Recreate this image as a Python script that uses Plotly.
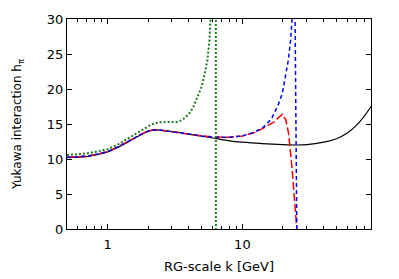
import plotly.graph_objects as go

# Black solid
k_black = [0.5, 0.6, 0.7, 0.8, 0.9, 1.0, 1.2, 1.4, 1.6, 1.8, 2.0, 2.2, 2.5, 3.0, 3.5, 4.0, 5.0, 6.0, 8.0, 10, 14, 20, 25, 30, 40, 50, 60, 70, 80, 90]
h_black = [10.2, 10.25, 10.35, 10.55, 10.75, 11.0, 11.7, 12.35, 13.0, 13.55, 13.95, 14.15, 14.1, 13.9, 13.75, 13.55, 13.25, 13.0, 12.6, 12.4, 12.2, 12.05, 12.0, 12.05, 12.4, 12.9, 13.7, 14.8, 16.1, 17.5]

# Red dashed
k_red = [0.5, 0.6, 0.7, 0.8, 0.9, 1.0, 1.2, 1.4, 1.6, 1.8, 2.0, 2.2, 2.5, 3.0, 3.5, 4.0, 5.0, 6.0, 7.0, 8.0, 10, 12, 14, 16, 17.2, 18.5, 19.8, 21.0, 22.0, 23.3, 24.6, 25.6, 25.8]
h_red = [10.25, 10.3, 10.4, 10.6, 10.8, 11.05, 11.75, 12.4, 13.05, 13.6, 14.0, 14.15, 14.1, 13.9, 13.7, 13.5, 13.3, 13.15, 13.1, 13.1, 13.3, 13.7, 14.3, 14.9, 15.3, 15.9, 16.4, 15.6, 13.7, 8.9, 4.1, 0.0, -2.0]

# Blue short-dashed
k_blue = [0.5, 0.6, 0.7, 0.8, 0.9, 1.0, 1.2, 1.4, 1.6, 1.8, 2.0, 2.2, 2.5, 3.0, 3.5, 4.0, 5.0, 6.0, 7.0, 8.0, 10, 12, 14, 15, 16.5, 17.8, 18.5, 19.8, 21.0, 21.9, 22.8, 23.6, 24.1, 24.6, 25.3, 25.35]
h_blue = [10.25, 10.3, 10.4, 10.6, 10.8, 11.05, 11.75, 12.4, 13.05, 13.6, 14.0, 14.15, 14.1, 13.9, 13.7, 13.5, 13.3, 13.15, 13.1, 13.1, 13.3, 13.75, 14.4, 14.9, 15.8, 17.0, 17.8, 19.4, 22.0, 24.1, 27.0, 30.0, 34.0, 30.0, 0.0, -1.0]

# Green dotted
k_green = [0.5, 0.6, 0.7, 0.8, 0.9, 1.0, 1.2, 1.46, 1.6, 1.89, 2.1, 2.4, 2.7, 3.0, 3.3, 3.6, 4.0, 4.3, 4.6, 4.85, 5.0, 5.3, 5.5, 5.7, 5.85, 6.0, 6.35, 6.36]
h_green = [10.55, 10.65, 10.8, 11.0, 11.2, 11.4, 12.1, 13.1, 13.6, 14.4, 14.9, 15.25, 15.3, 15.25, 15.3, 15.6, 16.4, 17.3, 18.7, 19.9, 20.4, 22.5, 24.1, 27.0, 30.0, 36.0, 40.0, -5.0]

x_tickvals = [1, 10]
x_ticktext = ["1", "10"]
x_minor = [0.5, 0.6, 0.7, 0.8, 0.9, 2, 3, 4, 5, 6, 7, 8, 9, 20, 30, 40, 50, 60, 70, 80, 90]
y_tickvals = [0, 5, 10, 15, 20, 25, 30]

fig = go.Figure()
fig.add_trace(go.Scatter(x=k_black, y=h_black, mode="lines",
                         line=dict(color="black", width=1.2), line_shape="spline"))
fig.add_trace(go.Scatter(x=k_red, y=h_red, mode="lines",
                         line=dict(color="#ff0000", width=1.5, dash="8px,3px")))
fig.add_trace(go.Scatter(x=k_blue, y=h_blue, mode="lines",
                         line=dict(color="#0000ff", width=1.5, dash="4px,3px")))
fig.add_trace(go.Scatter(x=k_green, y=h_green, mode="lines",
                         line=dict(color="#1f7a1f", width=2, dash="2px,2px")))

font = dict(family="DejaVu Sans", size=13, color="black")
yfont = dict(family="DejaVu Sans", size=12, color="black")
fig.update_layout(
    width=399, height=279,
    margin=dict(l=67, r=28, t=19, b=50, autoexpand=False),
    paper_bgcolor="white", plot_bgcolor="white",
    showlegend=False,
    font=font,
    xaxis=dict(type="log", range=[-0.30103, 1.954], automargin=False,
               tickmode="array", tickvals=x_tickvals, ticktext=x_ticktext,
               ticks="inside", ticklen=5, tickcolor="black",
               showline=True, linecolor="black", linewidth=1, mirror="allticks",
               showgrid=False, zeroline=False, ticklabelstandoff=3,
               minor=dict(tickmode="array", tickvals=x_minor, ticks="inside",
                          ticklen=3, tickcolor="black", showgrid=False),
               title=dict(text="RG-scale k [GeV]", standoff=11, font=font),
               tickfont=font),
    yaxis=dict(range=[0, 30], tickmode="array", tickvals=y_tickvals, automargin=False,
               ticks="inside", ticklen=5, tickcolor="black",
               showline=True, linecolor="black", linewidth=1, mirror="allticks",
               showgrid=False, zeroline=False,
               title=dict(text="Yukawa interaction h<sub>π</sub>", standoff=22, font=yfont),
               tickfont=font),
)
fig.write_html("out.html", config={"displayModeBar": False},
               post_script="document.body.style.margin='0';document.body.style.padding='0';")
